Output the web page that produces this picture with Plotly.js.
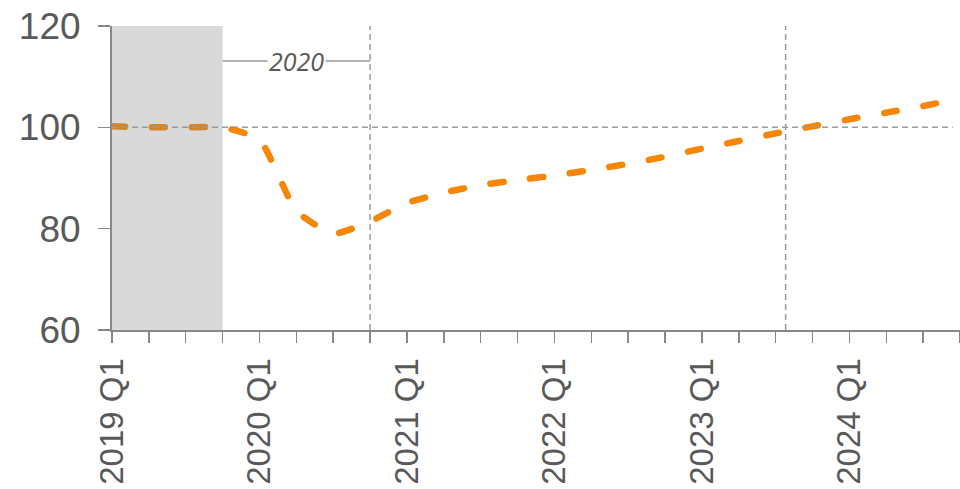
<!DOCTYPE html>
<html>
<head>
<meta charset="utf-8">
<script src="https://cdn.plot.ly/plotly-3.0.1.min.js"></script>
<style>
html,body{margin:0;padding:0;background:#fff;}
#chart{width:960px;height:489px;}
.scatterlayer .js-line{stroke-linecap:round !important;}
</style>
</head>
<body>
<div id="chart"></div>
<script>
var quarters = ["2019 Q1","2019 Q2","2019 Q3","2019 Q4","2020 Q1","2020 Q2","2020 Q3","2020 Q4",
  "2021 Q1","2021 Q2","2021 Q3","2021 Q4","2022 Q1","2022 Q2","2022 Q3","2022 Q4",
  "2023 Q1","2023 Q2","2023 Q3","2023 Q4","2024 Q1","2024 Q2","2024 Q3","2024 Q4"];
var values = [100.2,100.0,100.0,100.0, 97.6,83.5,79.0,81.4,
  85.1,87.1,88.6,89.6, 90.5,91.6,92.8,94.2,
  95.8,97.3,98.8,100.2, 101.6,102.9,104.2,105.7];
var yTicks = [60,80,100,120];
var shadeStart = 0, shadeEnd = 3;          // 2019 shaded period (index)
var marker2020 = [3, 7];                   // bracket for 2020 label
var vLines = [7, 18.27];                   // vertical dashed lines
var refLevel = 100;
var annotText = "2020";

var idx = quarters.map(function(_, i){ return i; });
var tickText = quarters.map(function(q){ return /Q1$/.test(q) ? q : ""; });

var trace = {
  x: idx, y: values, type: "scatter", mode: "lines",
  line: {color: "rgb(245,135,5)", width: 6.5, dash: "13px,27px", shape: "spline", smoothing: 0.5},
  hoverinfo: "skip", showlegend: false
};

var gray = "#9a9a9a";
var shapes = [
  {type:"rect", xref:"x", yref:"y", x0:shadeStart, x1:shadeEnd, y0:60, y1:120,
   fillcolor:"rgb(128,128,128)", opacity:0.3, line:{width:0}, layer:"above"},
  {type:"line", xref:"x", yref:"y", x0:0, x1:22.8, y0:refLevel, y1:refLevel,
   line:{color:gray, width:1.5, dash:"6px,4px"}, layer:"above"},
  {type:"line", xref:"x", yref:"y", x0:marker2020[0], x1:marker2020[1], y0:113.1, y1:113.1,
   line:{color:gray, width:1.5}, layer:"below"}
];
vLines.forEach(function(v){
  shapes.push({type:"line", xref:"x", yref:"y", x0:v, x1:v, y0:60, y1:120,
    line:{color:gray, width:1.5, dash:"6px,4px"}, layer:"below"});
});

var layout = {
  width: 960, height: 489,
  margin: {l:112, r:0, t:26, b:159, pad:0},
  paper_bgcolor: "#fff", plot_bgcolor: "#fff",
  font: {family: "Liberation Sans, Arial, sans-serif", color: "#595959", size: 36},
  xaxis: {
    range: [0, 23], tickvals: idx, ticktext: tickText, tickangle: -90,
    ticks: "outside", ticklen: 11, tickwidth: 1.5, tickcolor: "#888",
    showline: true, linecolor: "#888", linewidth: 2, showgrid: false, zeroline: false,
    tickfont: {size: 33, color: "#595959"}, ticklabelstandoff: 2, fixedrange: true
  },
  yaxis: {
    range: [60, 120], tickvals: yTicks,
    ticks: "outside", ticklen: 12, tickwidth: 1.5, tickcolor: "#888",
    showline: true, linecolor: "#888", linewidth: 2, showgrid: false, zeroline: false,
    tickfont: {size: 37, color: "#595959"}, ticklabelstandoff: 10, fixedrange: true
  },
  shapes: shapes,
  annotations: [{
    x: (marker2020[0]+marker2020[1])/2, y: 113.1, xref:"x", yref:"y",
    text: "<i>" + annotText + "</i>", showarrow: false,
    font: {family: "Open Sans, Liberation Sans, sans-serif", size: 25, color: "#595959"},
    bgcolor: "#fff", borderpad: 1, xanchor: "center", yanchor: "middle"
  }]
};

Plotly.newPlot("chart", [trace], layout, {staticPlot: true, displayModeBar: false});
</script>
</body>
</html>
